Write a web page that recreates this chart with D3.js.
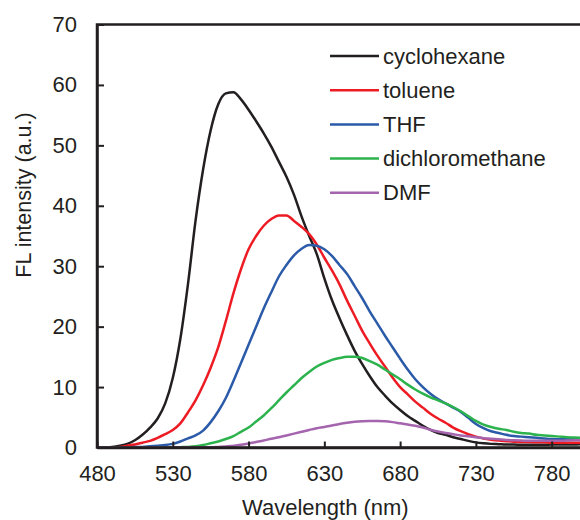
<!DOCTYPE html>
<html>
<head>
<meta charset="utf-8">
<script src="https://cdn.jsdelivr.net/npm/d3@7"></script>
<style>
  body { margin: 0; background: #fff; }
  text { font-family: "Liberation Sans", Arial, sans-serif; fill: #231f20; }
</style>
</head>
<body>
<svg id="plot"></svg>
<script>
// Wavelength grid (nm), 5 nm steps
const wavelengths = d3.range(480, 801, 5);

const cyclohexane = [0, 0, 0.1, 0.3, 0.6, 1.2, 2.1, 3.3, 4.8, 7.3,
    11.5, 18, 27, 37.5, 46, 52.5, 56.8, 58.6, 58.8, 57.6,
    55.9, 54, 52, 49.8, 47.3, 44.8, 41.8, 38.2, 35, 32,
    28, 24.4, 21.4, 18.6, 16, 13.8, 11.8, 10, 8.6, 7.3,
    6.2, 5.2, 4.4, 3.6, 2.9, 2.4, 2.1, 1.7, 1.4, 1.1,
    0.85, 0.7, 0.6, 0.55, 0.5, 0.5, 0.45, 0.45, 0.45, 0.45,
    0.5, 0.5, 0.5, 0.5, 0.55];

const toluene = [0, 0, 0, 0.1, 0.3, 0.5, 0.8, 1.1, 1.6, 2.2,
    2.9, 4.0, 5.8, 7.8, 10.3, 13.2, 16.6, 20.9, 25.5, 29.5,
    32.8, 35, 36.7, 37.8, 38.4, 38.4, 37.5, 36.5, 35.3, 33.6,
    31.4, 29.3, 27, 24.3, 21.8, 19.3, 17.2, 15.2, 13.4, 11.6,
    10, 8.8, 7.6, 6.6, 5.6, 4.8, 4.1, 3.3, 2.7, 2.2,
    1.8, 1.5, 1.3, 1.15, 1.05, 0.95, 0.9, 0.9, 0.85, 0.85,
    0.8, 0.8, 0.8, 0.8, 0.8];

const thf = [0, 0, 0, 0, 0, 0.1, 0.1, 0.2, 0.3, 0.4,
    0.6, 1.0, 1.5, 2.0, 2.8, 4.2, 6.0, 8.2, 11, 14,
    17, 20, 23, 25.7, 28.3, 30.2, 31.8, 32.9, 33.5, 33.4,
    32.8, 31.7, 30.2, 28.7, 26.7, 24.7, 22.5, 20.5, 18.5, 16.6,
    14.7, 12.9, 11.3, 10, 8.9, 8, 7.3, 6.6, 5.9, 4.9,
    3.9, 3.2, 2.7, 2.4, 2.1, 1.9, 1.8, 1.7, 1.6, 1.5,
    1.4, 1.35, 1.35, 1.4, 1.45];

const dichloromethane = [0, 0, 0, 0, 0, 0, 0, 0, 0, 0,
    0, 0.05, 0.1, 0.2, 0.4, 0.7, 1.0, 1.4, 1.9, 2.6,
    3.3, 4.3, 5.3, 6.5, 7.8, 9.1, 10.3, 11.5, 12.5, 13.4,
    14, 14.5, 14.8, 15, 15, 14.8, 14.3, 13.7, 12.9, 12.1,
    11.3, 10.4, 9.6, 8.9, 8.3, 7.8, 7.3, 6.7, 6, 5.2,
    4.4, 3.8, 3.4, 3.1, 2.9, 2.6, 2.4, 2.3, 2.1, 2.0,
    1.9, 1.8, 1.7, 1.65, 1.6];

const dmf = [0, 0, 0, 0, 0, 0, 0, 0, 0, 0,
    0, 0, 0, 0, 0.05, 0.05, 0.1, 0.15, 0.3, 0.45,
    0.65, 0.9, 1.15, 1.45, 1.7, 2.0, 2.3, 2.6, 2.9, 3.2,
    3.4, 3.65, 3.9, 4.1, 4.25, 4.35, 4.4, 4.4, 4.35, 4.2,
    4.0, 3.8, 3.6, 3.3, 2.95, 2.65, 2.4, 2.2, 2.0, 1.85,
    1.7, 1.55, 1.45, 1.35, 1.25, 1.2, 1.15, 1.1, 1.1, 1.1,
    1.1, 1.1, 1.15, 1.2, 1.2];

const seriesNames = ["cyclohexane", "toluene", "THF", "dichloromethane", "DMF"];
const seriesValues = [cyclohexane, toluene, thf, dichloromethane, dmf];
const seriesColors = ["#231f20", "#ed1c24", "#2a5aa8", "#2db34e", "#a564ae"];

const xTicks = [480, 530, 580, 630, 680, 730, 780];
const yTicks = [0, 10, 20, 30, 40, 50, 60, 70];

const width = 580;
const height = 520;
const svg = d3.select("#plot").attr("width", width).attr("height", height);

// Scales
const xScale = d3.scaleLinear().domain([480, 800]).range([97, 582]);
const yScale = d3.scaleLinear().domain([0, 70]).range([447.5, 24.5]);

// Lines
const line = d3.line()
    .x((d) => xScale(d[0]))
    .y((d) => yScale(d[1]))
    .curve(d3.curveMonotoneX);

seriesValues.forEach((vals, i) => {
    svg.append("path")
        .datum(wavelengths.map((w, j) => [w, vals[j]]))
        .attr("fill", "none")
        .attr("stroke", seriesColors[i])
        .attr("stroke-width", 2.5)
        .attr("stroke-linejoin", "round")
        .attr("d", line);
});

// Frame (top / right)
svg.append("rect")
    .attr("x", xScale(480))
    .attr("y", yScale(70))
    .attr("width", xScale(800) - xScale(480))
    .attr("height", yScale(0) - yScale(70))
    .attr("fill", "none")
    .attr("stroke", "#231f20")
    .attr("stroke-width", 2.5);

// Axes
const xAxis = svg.append("g")
    .attr("transform", `translate(0,${yScale(0)})`)
    .call(d3.axisBottom(xScale).tickValues(xTicks).tickSizeInner(-6).tickSizeOuter(0).tickPadding(17.5));

const yAxis = svg.append("g")
    .attr("transform", `translate(${xScale(480)},0)`)
    .call(d3.axisLeft(yScale).tickValues(yTicks).tickSizeInner(-7).tickSizeOuter(0).tickPadding(20));

[xAxis, yAxis].forEach((g) => {
    g.select(".domain").attr("stroke", "#231f20").attr("stroke-width", 2.5);
    g.selectAll(".tick line").attr("stroke", "#231f20").attr("stroke-width", 2);
    g.selectAll(".tick text")
        .attr("font-size", 22)
        .attr("font-family", "Liberation Sans, Arial, sans-serif")
        .attr("fill", "#231f20");
});

// Axis titles
svg.append("text")
    .attr("x", 242)
    .attr("y", 514.5)
    .attr("font-size", 22)
    .text("Wavelength (nm)");

svg.append("text")
    .attr("transform", "translate(24,195) rotate(-90)")
    .attr("text-anchor", "middle")
    .attr("dominant-baseline", "central")
    .attr("font-size", 21.5)
    .text("FL intensity (a.u.)");

// Legend
const legend = svg.append("g");
seriesNames.forEach((name, i) => {
    const y = 56 + i * 34.2;
    legend.append("line")
        .attr("x1", 330).attr("x2", 379)
        .attr("y1", y).attr("y2", y)
        .attr("stroke", seriesColors[i])
        .attr("stroke-width", 2.5);
    legend.append("text")
        .attr("x", 383)
        .attr("y", y)
        .attr("dominant-baseline", "central")
        .attr("font-size", 22)
        .text(name);
});
</script>
</body>
</html>
